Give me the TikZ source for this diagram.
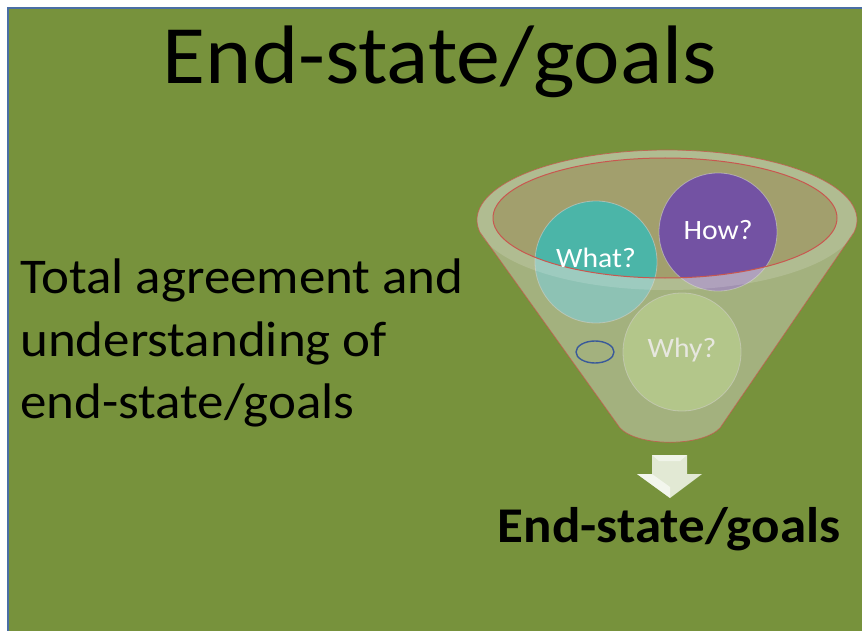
\documentclass[tikz,border=0pt]{standalone}
\usepackage{fontspec}
\setmainfont{Carlito}
\usetikzlibrary{calc}
\definecolor{bgreen}{HTML}{77923C}
\definecolor{bframe}{HTML}{4A6FA5}
\definecolor{innerfill}{HTML}{A29F6D}
\definecolor{tealc}{HTML}{4BB5A8}
\definecolor{purplec}{HTML}{7352A3}
\definecolor{whyc}{HTML}{96BC54}
\definecolor{redline}{HTML}{C8574F}
\definecolor{overlayc}{HTML}{D0D0C0}
\definecolor{arrowc}{HTML}{E2E9D4}
\definecolor{smallring}{HTML}{3A5A9A}
\tikzset{
  ball/.style={circle, minimum size=#1, inner sep=0pt, draw=white!80!black, draw opacity=0.6, line width=0.8pt},
  balltext/.style={text=white, font=\fontsize{28}{28}\selectfont, inner sep=0pt, xscale=1.06},
  bigtext/.style={font=\fontsize{50}{50}\selectfont, inner sep=0pt, anchor=base west, xscale=1.06},
}
\begin{document}
\begin{tikzpicture}[x=1pt,y=-1pt]
\useasboundingbox (0,0) rectangle (862,631);
\fill[white] (0,0) rectangle (862,631);
\fill[bgreen] (8,8) rectangle (866,635);
\draw[bframe, line width=2pt] (8,640) -- (8,8) -- (870,8);
% title
\node[font=\fontsize{83}{83}\selectfont, inner sep=0pt, anchor=base, xscale=1.06] (title) at (440,84) {End-state/goals};
% left text
\node[bigtext] (l1) at (20,293) {Total agreement and};
\node[bigtext] (l2) at (20,356) {understanding of};
\node[bigtext] (l3) at (20,418) {end-state/goals};
% funnel inner
\fill[innerfill] (665,218) ellipse[x radius=172, y radius=60];
% balls
\node[ball=122pt, fill=tealc] (what) at (596,262) {};
\node[ball=118pt, fill=purplec] (how) at (718,232) {};
\node[ball=118pt, fill=whyc] (why) at (682,352) {};
\node[balltext] (whyt) at (682,350) {Why?};
% front overlay of funnel (body minus inner opening)
\path[fill=overlayc, fill opacity=0.5, even odd rule]
  (479.9,232.2) arc[start angle=170, end angle=370, x radius=190, y radius=70]
  -- (720,428) .. controls (702,447) and (638,447) .. (620,428) -- cycle
  (665,218) ellipse[x radius=172, y radius=60];
% lighter rim
\path[fill=white, fill opacity=0.15, even odd rule]
  (667,220) ellipse[x radius=190, y radius=70]
  (665,218) ellipse[x radius=172, y radius=60];
% outlines
\draw[redline, line width=0.7pt, draw opacity=0.8]
  (479.9,232.2) arc[start angle=170, end angle=370, x radius=190, y radius=70]
  -- (720,428) .. controls (702,447) and (638,447) .. (620,428) -- cycle;
\draw[redline, line width=1pt] (665,218) ellipse[x radius=172, y radius=60];
% ball labels on top
\node[balltext] (whatt) at (596,258) {What?};
\node[balltext] (howt) at (718,230) {How?};
% small ring
\draw[smallring, line width=1.4pt] (595,352) ellipse[x radius=19, y radius=11];
% arrow
\fill[arrowc] (652,455) -- (687,455) -- (687,474) -- (702,474) -- (670,498) -- (637,474) -- (652,474) -- cycle;
\fill[white, opacity=0.6] (637,474) -- (652,474) -- (670,487) -- (670,498) -- cycle;
\fill[white, opacity=0.5] (652,455) -- (687,455) -- (680,461) -- (659,461) -- cycle;
% result label
\node[font=\fontsize{50}{50}\bfseries\selectfont, inner sep=0pt, anchor=base, xscale=1.06] (result) at (669,542) {End-state/goals};
\end{tikzpicture}
\end{document}
